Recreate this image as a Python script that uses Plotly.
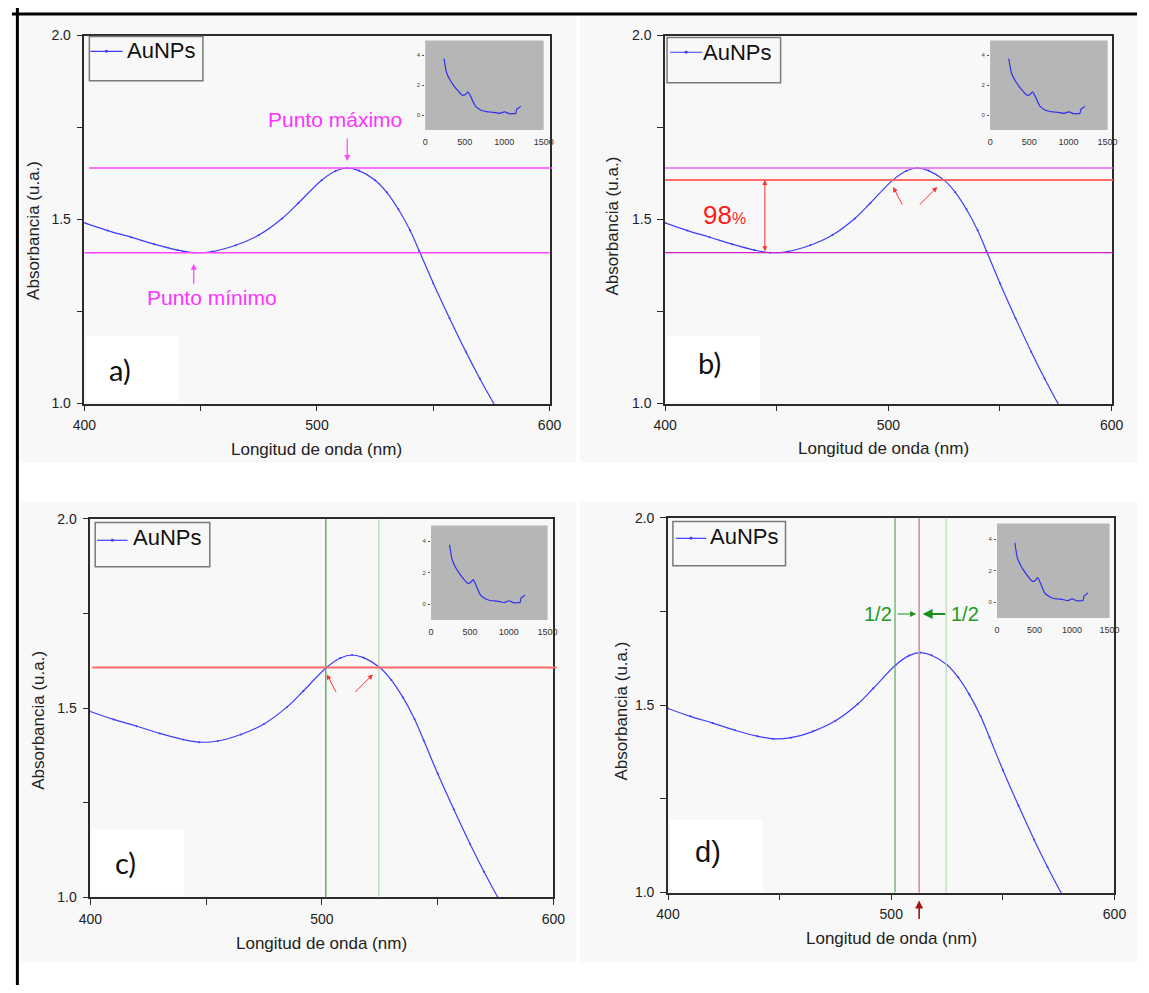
import plotly.graph_objects as go

W, H = 1149, 993

# ---------------- data ----------------
wavelength_nm = [400, 410, 420, 430, 440, 447, 455, 465, 475, 485, 492, 502, 508,
                 513, 518, 525, 530, 535, 540, 544, 550, 557, 564, 570, 576]
absorbance = [1.491, 1.470, 1.452, 1.433, 1.417, 1.410, 1.413, 1.430, 1.458, 1.503,
              1.545, 1.607, 1.632, 1.640, 1.633, 1.607, 1.574, 1.528, 1.471, 1.414,
              1.327, 1.232, 1.141, 1.068, 1.000]

inset_wavelength = [238, 272, 320, 369, 420, 471, 510, 541, 574, 635, 690, 738, 790,
                    836, 890, 943, 1004, 1066, 1127, 1145, 1160, 1190, 1209]
inset_absorbance = [3.78, 2.82, 2.30, 1.93, 1.60, 1.33, 1.38, 1.56, 1.27, 0.60, 0.38,
                    0.27, 0.22, 0.20, 0.16, 0.11, 0.22, 0.09, 0.10, 0.10, 0.40, 0.50, 0.60]

x_ticks = [400, 450, 500, 550, 600]
x_ticktext = ['400', '', '500', '', '600']
y_ticks = [1.0, 1.25, 1.5, 1.75, 2.0]
y_ticktext = ['1.0', '', '1.5', '', '2.0']
inset_x_ticks = [0, 500, 1000, 1500]
inset_y_ticks = [0, 2, 4]

level_fraction = 0.98
fwhm_left_nm = 501.7
fwhm_right_nm = 524.6
resonance_nm = 512.5

series_name = 'AuNPs'
x_title = 'Longitud de onda (nm)'
y_title = 'Absorbancia (u.a.)'
panel_labels = ['a)', 'b)', 'c)', 'd)']

# derived values
i_max = absorbance.index(max(absorbance))
i_min = absorbance.index(min(absorbance[:i_max]))   # local minimum before the band
peak_x, peak_y = wavelength_nm[i_max], absorbance[i_max]
min_x, min_y = wavelength_nm[i_min], absorbance[i_min]
level = level_fraction * peak_y

# ---------------- layout geometry (pixels) ----------------
panels = [
    dict(plot=(74, 549, 28, 402), inset=(422, 543, 33, 124), ytitle=(22, 226), xtitle=(311, 449),
         legend=(79, 195, 29, 74), sample=(80, 113, 44), ltext=(152, 43),
         label=(110, 367), lrect=(76, 170, 333, 400), lfont='Lato', bg=(8, 576, 8, 462)),
    dict(plot=(667, 1123, 28, 402), inset=(999, 1119, 33, 124), ytitle=(613, 222), xtitle=(890, 448),
         legend=(669, 785, 30, 76), sample=(672, 705, 45), ltext=(740, 45),
         label=(712, 360), lrect=(669, 764, 333, 400), lfont='Lato', bg=(580, 1149, 8, 462)),
    dict(plot=(80, 553, 519, 904), inset=(428, 547, 526, 622), ytitle=(27, 724), xtitle=(316, 951),
         legend=(85, 202, 523, 568), sample=(87, 118, 541), ltext=(158, 538),
         label=(116, 868), lrect=(81, 176, 835, 902), lfont='Lato', bg=(8, 576, 502, 970)),
    dict(plot=(670, 1126, 518, 899), inset=(1006, 1121, 524, 620), ytitle=(622, 715), xtitle=(898, 946),
         legend=(675, 790, 522, 567), sample=(678, 709, 539), ltext=(748, 537),
         label=(711, 858), lrect=(672, 766, 825, 897), lfont='Liberation Sans', bg=(580, 1149, 502, 970)),
]


def X(px):
    return px / W


def Y(py):
    return 1 - py / H


ARIAL = 'Arial, Liberation Sans, sans-serif'
BLUE = '#3d3dfa'
MAGENTA = '#ff44ff'

fig = go.Figure()
layout = dict(width=W, height=H, margin=dict(l=0, r=0, t=0, b=0),
              paper_bgcolor='white', plot_bgcolor='rgba(0,0,0,0)', showlegend=False)
shapes = []
annotations = []

for i, p in enumerate(panels):
    n = i + 1
    m = i + 5
    sx = '' if n == 1 else str(n)
    xa, ya = 'x' + sx, 'y' + sx
    xi, yi = 'x' + str(m), 'y' + str(m)
    x0, x1, y0, y1 = p['plot']

    fig.add_trace(go.Scatter(x=wavelength_nm, y=absorbance, mode='lines+markers', name=series_name,
                             line=dict(color=BLUE, width=1.2, shape='spline', smoothing=1.0),
                             marker=dict(size=2, color=BLUE),
                             xaxis=xa, yaxis=ya, hoverinfo='skip'))
    fig.add_trace(go.Scatter(x=inset_wavelength, y=inset_absorbance, mode='lines',
                             line=dict(color='#3030e8', width=1.2, shape='spline', smoothing=0.6),
                             xaxis=xi, yaxis=yi, hoverinfo='skip'))

    common = dict(showline=True, linecolor='#2b2b2b', linewidth=1.6, mirror=True, ticks='outside',
                  ticklen=6, tickwidth=1.4, tickcolor='#2b2b2b', showgrid=False, zeroline=False,
                  tickfont=dict(family=ARIAL, size=14, color='#222'))
    layout['xaxis' + sx] = dict(domain=[X(x0), X(x1)], range=[400, 600], tickmode='array',
                                tickvals=x_ticks, ticktext=x_ticktext, anchor=ya,
                                ticklabelstandoff=2, **common)
    layout['yaxis' + sx] = dict(domain=[Y(y1), Y(y0)], range=[1, 2], tickmode='array',
                                tickvals=y_ticks, ticktext=y_ticktext, anchor=xa,
                                ticklabelstandoff=3, **common)

    ix0, ix1, iy0, iy1 = p['inset']
    layout['xaxis' + str(m)] = dict(domain=[X(ix0), X(ix1)], range=[0, 1500], tickmode='array',
                                    tickvals=inset_x_ticks, showline=False, ticks='', showgrid=False,
                                    zeroline=False, anchor=yi, ticklabelstandoff=5,
                                    tickfont=dict(family=ARIAL, size=9, color='#333'))
    layout['yaxis' + str(m)] = dict(domain=[Y(iy1), Y(iy0)], range=[-1, 5], tickmode='array',
                                    tickvals=inset_y_ticks, showline=False, ticks='outside', ticklen=2,
                                    tickcolor='#555', showgrid=False, zeroline=False, anchor=xi,
                                    ticklabelstandoff=1,
                                    tickfont=dict(family=ARIAL, size=6, color='#444'))

    # panel background (dotted texture approximated by a very light gray)
    bx0, bx1, by0, by1 = p['bg']
    shapes.append(dict(type='rect', xref='paper', yref='paper', x0=X(bx0), x1=X(bx1), y0=Y(by1), y1=Y(by0),
                       fillcolor='#f8f8f8', line=dict(width=0), layer='below'))
    lx0, lx1, ly0, ly1 = p['lrect']
    shapes.append(dict(type='rect', xref='paper', yref='paper', x0=X(lx0), x1=X(lx1), y0=Y(ly1), y1=Y(ly0),
                       fillcolor='white', line=dict(width=0), layer='below'))
    # inset gray box
    shapes.append(dict(type='rect', xref='paper', yref='paper', x0=X(ix0), x1=X(ix1), y0=Y(iy1), y1=Y(iy0),
                       fillcolor='#b6b6b6', line=dict(width=0), layer='below'))
    # legend box
    gx0, gx1, gy0, gy1 = p['legend']
    shapes.append(dict(type='rect', xref='paper', yref='paper', x0=X(gx0), x1=X(gx1), y0=Y(gy1), y1=Y(gy0),
                       line=dict(color='#7a7a7a', width=1.5), layer='above'))
    sx0, sx1, sy = p['sample']
    shapes.append(dict(type='line', xref='paper', yref='paper', x0=X(sx0), x1=X(sx1), y0=Y(sy), y1=Y(sy),
                       line=dict(color=BLUE, width=1.2), layer='above'))
    cx = (sx0 + sx1) / 2
    shapes.append(dict(type='circle', xref='paper', yref='paper', x0=X(cx - 1.5), x1=X(cx + 1.5),
                       y0=Y(sy + 1.5), y1=Y(sy - 1.5), fillcolor=BLUE, line=dict(width=0), layer='above'))
    annotations.append(dict(text=series_name, xref='paper', yref='paper', x=X(p['ltext'][0]), y=Y(p['ltext'][1]),
                            showarrow=False, font=dict(family=ARIAL, size=22, color='#111'),
                            xanchor='center', yanchor='middle'))
    # axis titles
    annotations.append(dict(text=y_title, xref='paper', yref='paper', x=X(p['ytitle'][0]), y=Y(p['ytitle'][1]),
                            showarrow=False, textangle=-90, font=dict(family=ARIAL, size=17, color='#222'),
                            xanchor='center', yanchor='middle'))
    annotations.append(dict(text=x_title, xref='paper', yref='paper', x=X(p['xtitle'][0]), y=Y(p['xtitle'][1]),
                            showarrow=False, font=dict(family=ARIAL, size=17, color='#222'),
                            xanchor='center', yanchor='middle'))
    # panel label
    annotations.append(dict(text=panel_labels[i], xref='paper', yref='paper', x=X(p['label'][0]),
                            y=Y(p['label'][1]), showarrow=False,
                            font=dict(family=p['lfont'], size=29, color='#111'),
                            xanchor='center', yanchor='middle'))

# ---------------- panel a annotations ----------------
shapes.append(dict(type='line', xref='x domain', yref='y', x0=0.01, x1=1.005, y0=peak_y, y1=peak_y,
                   line=dict(color=MAGENTA, width=1.5)))
shapes.append(dict(type='line', xref='x domain', yref='y', x0=0, x1=1.0, y0=min_y, y1=min_y,
                   line=dict(color=MAGENTA, width=1.5)))
annotations.append(dict(x=peak_x, y=peak_y, xref='x', yref='y', text='', showarrow=True, arrowhead=2,
                        arrowsize=1, arrowwidth=1.2, arrowcolor=MAGENTA, ax=0, ay=-24, yshift=7, standoff=0))
annotations.append(dict(x=peak_x, y=peak_y, xref='x', yref='y', text='Punto máximo', showarrow=False,
                        xshift=-12, yshift=49, font=dict(family=ARIAL, size=21, color='#ff33ff')))
annotations.append(dict(x=min_x, y=min_y, xref='x', yref='y', text='', showarrow=True, arrowhead=2,
                        arrowsize=1, arrowwidth=1.2, arrowcolor=MAGENTA, ax=0, ay=22, yshift=-11, standoff=0))
annotations.append(dict(x=min_x, y=min_y, xref='x', yref='y', text='Punto mínimo', showarrow=False,
                        xshift=18, yshift=-45, font=dict(family=ARIAL, size=21, color='#ff33ff')))

# ---------------- panel b annotations ----------------
shapes.append(dict(type='line', xref='x2 domain', yref='y2', x0=0, x1=1.003, y0=peak_y, y1=peak_y,
                   line=dict(color='#ee66ee', width=1.4)))
shapes.append(dict(type='line', xref='x2 domain', yref='y2', x0=0, x1=1.003, y0=level, y1=level,
                   line=dict(color='#ff6a6a', width=2)))
shapes.append(dict(type='line', xref='x2 domain', yref='y2', x0=0, x1=1.003, y0=min_y, y1=min_y,
                   line=dict(color='#cc22cc', width=1.4)))
annotations.append(dict(x=min_x - 2.3, y=level, ax=min_x - 2.3, ay=min_y, xref='x2', yref='y2',
                        axref='x2', ayref='y2', text='', showarrow=True, arrowhead=2, startarrowhead=2,
                        arrowside='end+start', arrowsize=1, startarrowsize=1, arrowwidth=1,
                        arrowcolor='#ff3030', standoff=0, startstandoff=0))
annotations.append(dict(x=min_x - 20.5, y=1.511, xref='x2', yref='y2', showarrow=False,
                        text="98<span style='font-size:16px'>%</span>",
                        font=dict(family=ARIAL, size=26, color='#ff1a1a')))
for xr in ['x2', 'x3']:
    yr = 'y' + xr[1:]
    annotations.append(dict(x=fwhm_left_nm, y=level, xref=xr, yref=yr, text='', showarrow=True,
                            arrowhead=2, arrowsize=1, arrowwidth=1, arrowcolor='#ff3030',
                            ax=10, ay=19, xshift=1, yshift=-7, standoff=0))
    annotations.append(dict(x=fwhm_right_nm, y=level, xref=xr, yref=yr, text='', showarrow=True,
                            arrowhead=2, arrowsize=1, arrowwidth=1, arrowcolor='#ff3030',
                            ax=-19, ay=19, xshift=-6, yshift=-7, standoff=0))

# ---------------- panel c annotations ----------------
shapes.append(dict(type='line', xref='x3', yref='y3 domain', x0=fwhm_left_nm, x1=fwhm_left_nm, y0=0, y1=1,
                   line=dict(color='#3f9f3f', width=1.2)))
shapes.append(dict(type='line', xref='x3', yref='y3 domain', x0=fwhm_right_nm, x1=fwhm_right_nm, y0=0, y1=1,
                   line=dict(color='#b6dcb6', width=1.3)))
shapes.append(dict(type='line', xref='x3 domain', yref='y3', x0=0.004, x1=1.007, y0=level, y1=level,
                   line=dict(color='#ff6a6a', width=2)))

# ---------------- panel d annotations ----------------
shapes.append(dict(type='line', xref='x4', yref='y4 domain', x0=fwhm_left_nm, x1=fwhm_left_nm, y0=0, y1=1,
                   line=dict(color='#5aaa5a', width=1.2)))
shapes.append(dict(type='line', xref='x4', yref='y4 domain', x0=fwhm_right_nm, x1=fwhm_right_nm, y0=0, y1=1,
                   line=dict(color='#bcdcbc', width=1.3)))
shapes.append(dict(type='line', xref='x4', yref='y4 domain', x0=resonance_nm, x1=resonance_nm, y0=0, y1=1,
                   line=dict(color='#d89090', width=1.6)))
half_y = 1.743
annotations.append(dict(x=resonance_nm, y=half_y, xref='x4', yref='y4', text='', showarrow=True,
                        arrowhead=2, arrowsize=1, arrowwidth=1.2, arrowcolor='#1f8f1f',
                        ax=-20, ay=0, xshift=-3, standoff=0))
annotations.append(dict(x=resonance_nm, y=half_y, xref='x4', yref='y4', text='', showarrow=True,
                        arrowhead=2, arrowsize=1, arrowwidth=2, arrowcolor='#1f8f1f',
                        ax=24, ay=0, xshift=3.5, standoff=0))
annotations.append(dict(x=resonance_nm, y=half_y, xref='x4', yref='y4', text='1/2', showarrow=False,
                        xshift=-41, font=dict(family=ARIAL, size=20, color='#229a22')))
annotations.append(dict(x=resonance_nm, y=half_y, xref='x4', yref='y4', text='1/2', showarrow=False,
                        xshift=46, font=dict(family=ARIAL, size=20, color='#229a22')))
annotations.append(dict(x=resonance_nm, y=1.0, xref='x4', yref='y4', text='', showarrow=True,
                        arrowhead=2, arrowsize=1, arrowwidth=1.6, arrowcolor='#a01515',
                        ax=0, ay=20, yshift=-8, standoff=0))

# ---------------- outer border ----------------
shapes.append(dict(type='line', xref='paper', yref='paper', x0=0, x1=1, y0=Y(6), y1=Y(6),
                   line=dict(color='black', width=3), layer='above'))
shapes.append(dict(type='line', xref='paper', yref='paper', x0=X(5.5), x1=X(5.5), y0=0, y1=1,
                   line=dict(color='black', width=3), layer='above'))

layout['shapes'] = shapes
layout['annotations'] = annotations
fig.update_layout(**layout)
fig.write_html('out.html', config={'displayModeBar': False},
               post_script="document.body.style.margin='0px';")
